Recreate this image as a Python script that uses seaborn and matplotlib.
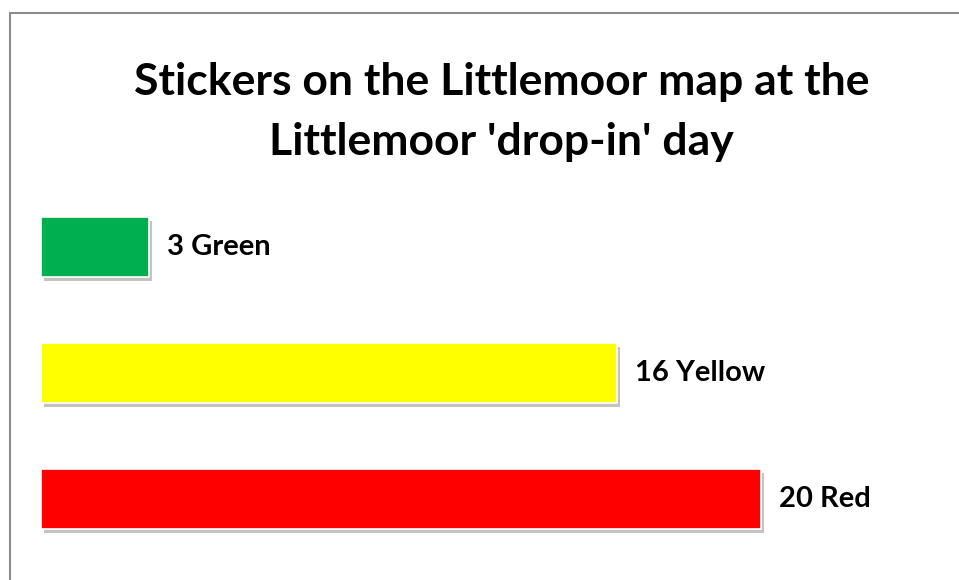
import matplotlib
matplotlib.use('Agg')
import matplotlib.pyplot as plt
import matplotlib.patheffects as pe
from matplotlib.patches import Rectangle
import seaborn as sns

labels = ['3 Green', '16 Yellow', '20 Red']
counts = [3, 16, 20]
colors = ['#00B050', '#FFFF00', '#FF0000']
title = "Stickers on the Littlemoor map at the\nLittlemoor 'drop-in' day"

sns.set_style('white')
plt.rcParams['font.family'] = ['Lato', 'DejaVu Sans']

fig = plt.figure(figsize=(9.59, 5.80), dpi=100)
fig.patches.append(Rectangle((10 / 959, -0.1), 1.1, 1 - 13 / 580 + 0.1,
                             transform=fig.transFigure, fill=False,
                             edgecolor='#8c8c8c', linewidth=1.5))
ax = fig.add_axes([41 / 959, 20 / 580, 900 / 959, 375 / 580])

sns.barplot(x=counts, y=labels, hue=labels, palette=colors, legend=False,
            orient='h', width=0.48, saturation=1, ax=ax,
            edgecolor='white', linewidth=1.2)
for bar in ax.patches:
    bar.set_path_effects([pe.SimplePatchShadow(offset=(2, -3), shadow_rgbFace='#888888', alpha=0.5),
                          pe.Normal()])

for i, (v, lab) in enumerate(zip(counts, labels)):
    ax.text(v + 0.5, i, lab, va='center', ha='left', fontsize=21,
            fontweight='bold', color='black')

ax.set_xlim(0, 25)
ax.set_ylim(2 + 61 / 126, -62 / 126)
ax.axis('off')

fig.text(0.523, 1 - 155 / 580, title, ha='center', va='baseline', fontsize=32,
         fontweight='bold', linespacing=1.6, color='black')

fig.savefig('out.png', dpi=100)
